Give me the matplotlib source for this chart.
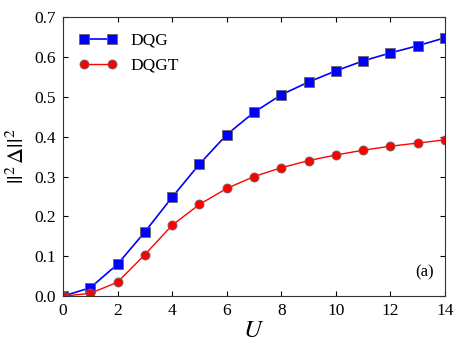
import matplotlib
matplotlib.use("Agg")
import matplotlib.pyplot as plt

# values
u = [0, 1, 2, 3, 4, 5, 6, 7, 8, 9, 10, 11, 12, 13, 14]
dqg = [0.0, 0.021, 0.080, 0.161, 0.248, 0.331, 0.405, 0.461, 0.505, 0.537,
       0.565, 0.590, 0.610, 0.628, 0.648]
dqgt = [0.0, 0.007, 0.035, 0.104, 0.178, 0.230, 0.270, 0.300, 0.322, 0.340,
        0.354, 0.366, 0.376, 0.384, 0.392]
x_ticks = [0, 2, 4, 6, 8, 10, 12, 14]
y_ticks = [0.0, 0.1, 0.2, 0.3, 0.4, 0.5, 0.6, 0.7]

plt.rcParams['font.family'] = ['Liberation Serif', 'DejaVu Serif']
plt.rcParams['mathtext.fontset'] = 'stix'

fig = plt.figure(figsize=(4.63, 3.48), dpi=100)
ax = fig.add_axes([0.136, 0.149, 0.825, 0.802])

ax.plot(u, dqg, color='blue', marker='s', markersize=6.5, markeredgecolor='#666666',
        markeredgewidth=0.6, lw=1.2, label='DQG')
ax.plot(u, dqgt, color='red', marker='o', markersize=6.5, markeredgecolor='#666666',
        markeredgewidth=0.6, lw=1.0, label='DQGT')

ax.set_xlim(0, 14)
ax.set_ylim(0, 0.7)
ax.set_xticks(x_ticks)
ax.set_yticks(y_ticks)
ax.set_yticklabels([f"{v:.1f}" for v in y_ticks])
ax.tick_params(direction='in', top=True, right=True, labelsize=12.5, length=3.5, pad=5)
for s in ax.spines.values():
    s.set_color('#333333')

ax.set_xlabel('$U$', fontsize=18, labelpad=1)
ax.set_ylabel('$||^2\\,\\Delta||^2$', fontsize=16, labelpad=4)

ax.legend(loc='upper left', frameon=False, fontsize=12.5, numpoints=2,
          handlelength=2.2, borderaxespad=0.5, labelspacing=0.5)
ax.text(0.97, 0.085, '(a)', transform=ax.transAxes, ha='right', va='center', fontsize=12)

fig.savefig('out.png', dpi=100)
